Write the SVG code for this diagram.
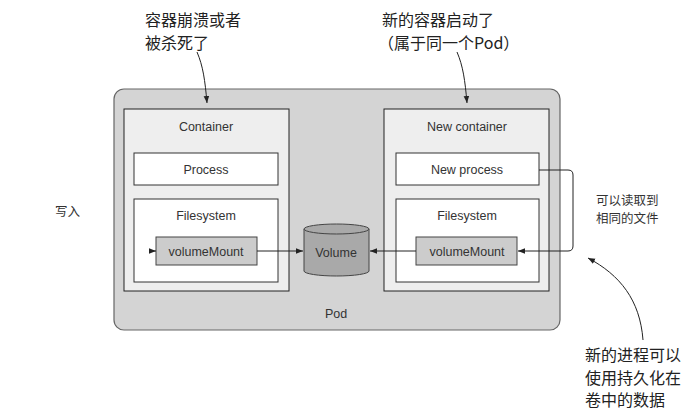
<svg xmlns="http://www.w3.org/2000/svg" width="690" height="415" viewBox="0 0 690 415">
<style>
.lbl{font-family:"Liberation Sans","Noto Sans CJK SC",sans-serif;font-size:12.5px;fill:#333;text-anchor:middle}
.cn{font-family:"Noto Sans CJK SC",sans-serif;font-size:16px;fill:#222}
.cns{font-family:"Noto Sans CJK SC",sans-serif;font-size:12.5px;fill:#333}
.box{fill:#fff;stroke:#333;stroke-width:1}
.ctr{fill:#eeeeee;stroke:#222;stroke-width:1}
.vm{fill:#cccccc;stroke:#444;stroke-width:1}
.ln{fill:none;stroke:#222;stroke-width:1}
</style>
<defs>
<marker id="ah" viewBox="0 0 10 10" refX="10" refY="5" markerWidth="7" markerHeight="7" orient="auto" markerUnits="userSpaceOnUse">
<path d="M0,1 L10,5 L0,9 Z" fill="#222"/>
</marker>
</defs>
<rect width="690" height="415" fill="#fff"/>
<g id="pod">
<rect x="114" y="89" width="446" height="241" rx="10" fill="#d4d4d4" stroke="#666" stroke-width="1.2"/>
<text class="lbl" x="336" y="318" font-size="13">Pod</text>
</g>
<g id="container">
<rect class="ctr" x="124" y="109" width="165" height="182"/>
<text class="lbl" x="206" y="131">Container</text>
</g>
<g id="process">
<rect class="box" x="134" y="153" width="144" height="32"/>
<text class="lbl" x="206" y="174">Process</text>
</g>
<g id="filesystem">
<rect class="box" x="134" y="199" width="144" height="83"/>
<text class="lbl" x="206" y="220">Filesystem</text>
</g>
<g id="volumeMount">
<rect class="vm" x="156" y="237" width="101" height="28"/>
<text class="lbl" x="206" y="256">volumeMount</text>
</g>
<g id="newContainer">
<rect class="ctr" x="384" y="109" width="165" height="182"/>
<text class="lbl" x="467" y="131">New container</text>
</g>
<g id="newProcess">
<rect class="box" x="396" y="153" width="143" height="32"/>
<text class="lbl" x="467" y="174">New process</text>
</g>
<g id="newFilesystem">
<rect class="box" x="396" y="199" width="143" height="83"/>
<text class="lbl" x="467" y="220">Filesystem</text>
</g>
<g id="newVolumeMount">
<rect class="vm" x="416" y="237" width="101" height="28"/>
<text class="lbl" x="467" y="256">volumeMount</text>
</g>
<g id="volume">
<path d="M304,229 L304,271 A32.5,5 0 0 0 369,271 L369,229" fill="#a9a9a9" stroke="#444" stroke-width="1"/>
<ellipse cx="336.5" cy="229" rx="32.5" ry="5" fill="#a9a9a9" stroke="#444" stroke-width="1"/>
<text class="lbl" x="336" y="257">Volume</text>
</g>
<g id="connectors">
<path class="ln" d="M150,251 L156,251" marker-end="url(#ah)"/>
<path class="ln" d="M257,251 L303,251" marker-end="url(#ah)"/>
<path class="ln" d="M416,251 L370,251" marker-end="url(#ah)"/>
<path class="ln" d="M539,170 L568,170 Q573,170 573,175 L573,246 Q573,251 568,251 L518,251" marker-end="url(#ah)"/>
<path class="ln" d="M197,52 C203,66 205,80 207,103" marker-end="url(#ah)"/>
<path class="ln" d="M457,52 C463,66 465,80 467,103" marker-end="url(#ah)"/>
<path class="ln" d="M643,340 C640,300 620,275 588,258" marker-end="url(#ah)"/>
</g>
<g id="annotations">
<text class="cn" x="145" y="26">容器崩溃或者<tspan x="145" dy="23">被杀死了</tspan></text>
<text class="cn" x="382" y="26">新的容器启动了<tspan x="378" dy="23">（属于同一个Pod）</tspan></text>
<text class="cns" x="596" y="205">可以读取到<tspan x="596" dy="18">相同的文件</tspan></text>
<text class="cn" x="585" y="361">新的进程可以<tspan x="585" dy="23">使用持久化在</tspan><tspan x="585" dy="22">卷中的数据</tspan></text>
<text class="cns" x="55" y="216" font-size="11">写入</text>
</g>
</svg>
